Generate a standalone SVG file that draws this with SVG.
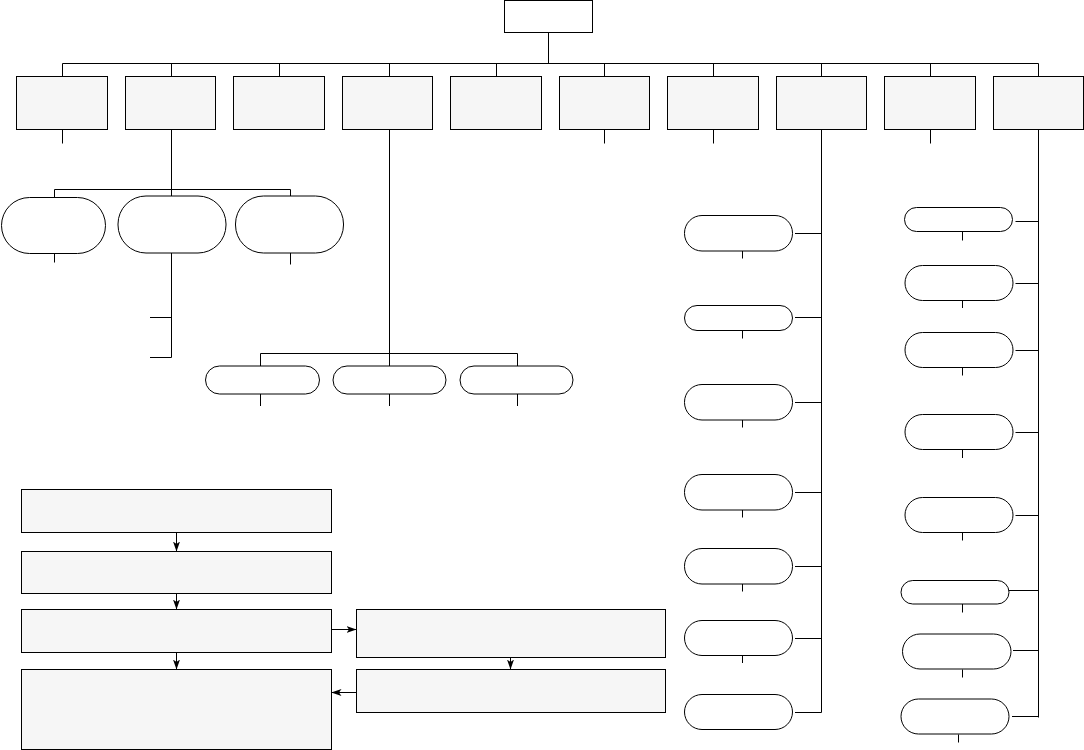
<svg xmlns="http://www.w3.org/2000/svg" width="1084" height="750" viewBox="0 0 1084 750">
<style>
.box{fill:#f6f6f6;stroke:#000;stroke-width:1}
.pill{fill:#fff;stroke:#000;stroke-width:1}
.ln{fill:none;stroke:#000;stroke-width:1}
.ar{fill:none;stroke:#000;stroke-width:1;marker-end:url(#ah)}
</style>
<defs>
<marker id="ah" markerUnits="userSpaceOnUse" markerWidth="10" markerHeight="8" refX="10" refY="4" orient="auto">
<path d="M0,0.5 L10,4 L0,7.5 L2.5,4 z" fill="#000"/>
</marker>
</defs>
<rect width="1084" height="750" fill="#fff"/>
<g id="connectors">
<path class="ln" d="M548.5 32.5V63.5M62.5 63.5H1038.5M62.5 63.5V76.5M171.5 63.5V76.5M279.5 63.5V76.5M389.5 63.5V76.5M496.5 63.5V76.5M604.5 63.5V76.5M713.5 63.5V76.5M821.5 63.5V76.5M930.5 63.5V76.5M1038.5 63.5V76.5"/>
<path class="ln" d="M62.5 129.5V143.5M604.5 129.5V143.5M713.5 129.5V143.5M930.5 129.5V143.5"/>
<path class="ln" d="M171.5 129.5V196M54.5 189.5H290.5M54.5 189.5V197.5M290.5 189.5V196M54.5 253.5V262.5M290.5 253V264.5M171.5 253V357.5M150 317.5H171.5M150 357.5H171.5"/>
<path class="ln" d="M389.5 129.5V366M260.5 353.5H517.5M260.5 353.5V366M517.5 353.5V366M260.5 394V406M389.5 394V406M517.5 394V406"/>
<path class="ln" d="M821.5 129.5V712.5M795 233.5H821.5M795 317.5H821.5M795 402.5H821.5M795 492.5H821.5M795 566.5H821.5M795 638.5H821.5M795 712.5H821.5M742.5 251V258.5M742.5 330.5V338.5M742.5 420V427.5M742.5 510V517.5M742.5 584V591.5M742.5 655.5V663"/>
<path class="ln" d="M1038.5 129.5V717.5M1015.5 221.5H1038.5M1015.5 283.5H1038.5M1015.5 350.5H1038.5M1015.5 432.5H1038.5M1015.5 515.5H1038.5M1009 590.5H1038.5M1013 650.5H1038.5M1012 716.5H1038.5M962.5 231.5V240.5M962.5 300.5V308M962.5 367.5V375.5M962.5 449.5V458M962.5 532.5V540.5M962.5 604V612.5M962.5 669.5V677.5M958.5 734.5V742.5"/>
<path class="ar" d="M176.5 532.5V551.5"/>
<path class="ar" d="M176.5 593.5V609.5"/>
<path class="ar" d="M176.5 652.5V669.5"/>
<path class="ar" d="M331.5 629.5H356.5"/>
<path class="ar" d="M510.5 652.5V669.5"/>
<path class="ar" d="M356.5 692.5H331.5"/>
</g>
<g id="root"><rect class="box" x="504.5" y="0.5" width="88" height="32" style="fill:#fff"/></g>
<g id="n1"><rect class="box" x="16.5" y="76.5" width="91" height="53"/></g>
<g id="n2"><rect class="box" x="125.5" y="76.5" width="90" height="53"/></g>
<g id="n3"><rect class="box" x="233.5" y="76.5" width="91" height="53"/></g>
<g id="n4"><rect class="box" x="342.5" y="76.5" width="90" height="53"/></g>
<g id="n5"><rect class="box" x="450.5" y="76.5" width="91" height="53"/></g>
<g id="n6"><rect class="box" x="559.5" y="76.5" width="90" height="53"/></g>
<g id="n7"><rect class="box" x="667.5" y="76.5" width="91" height="53"/></g>
<g id="n8"><rect class="box" x="776.5" y="76.5" width="90" height="53"/></g>
<g id="n9"><rect class="box" x="884.5" y="76.5" width="91" height="53"/></g>
<g id="n10"><rect class="box" x="993.5" y="76.5" width="90" height="53"/></g>
<g id="a1"><rect class="pill" x="1.5" y="197.5" width="104" height="56" rx="28"/></g>
<g id="a2"><rect class="pill" x="118" y="196" width="108" height="57" rx="28"/></g>
<g id="a3"><rect class="pill" x="235.5" y="196" width="108" height="57" rx="28"/></g>
<g id="b1"><rect class="pill" x="205.5" y="366" width="114" height="28" rx="14"/></g>
<g id="b2"><rect class="pill" x="333" y="366" width="113" height="28" rx="14"/></g>
<g id="b3"><rect class="pill" x="460" y="366" width="113" height="28" rx="14"/></g>
<g id="q1"><rect class="pill" x="684.5" y="215.5" width="108" height="35.5" rx="17.5"/></g>
<g id="q2"><rect class="pill" x="684.5" y="305.5" width="108" height="25" rx="12.5"/></g>
<g id="q3"><rect class="pill" x="684.5" y="384.5" width="108" height="35.5" rx="17.5"/></g>
<g id="q4"><rect class="pill" x="684.5" y="474.5" width="108" height="35.5" rx="17.5"/></g>
<g id="q5"><rect class="pill" x="684.5" y="548.5" width="108" height="35.5" rx="17.5"/></g>
<g id="q6"><rect class="pill" x="684.5" y="620.5" width="108" height="35" rx="17.5"/></g>
<g id="q7"><rect class="pill" x="684.5" y="694.5" width="108" height="35" rx="17.5"/></g>
<g id="r1"><rect class="pill" x="904.5" y="207.5" width="108" height="24" rx="12"/></g>
<g id="r2"><rect class="pill" x="905" y="265.5" width="108" height="35" rx="17.5"/></g>
<g id="r3"><rect class="pill" x="905" y="332.5" width="108" height="35" rx="17.5"/></g>
<g id="r4"><rect class="pill" x="905" y="414.5" width="108" height="35" rx="17.5"/></g>
<g id="r5"><rect class="pill" x="905" y="497.5" width="108" height="35" rx="17.5"/></g>
<g id="r6"><rect class="pill" x="901" y="580.5" width="108" height="23.5" rx="11.75"/></g>
<g id="r7"><rect class="pill" x="902.5" y="634" width="108.5" height="35" rx="17.5"/></g>
<g id="r8"><rect class="pill" x="901" y="699" width="108" height="35" rx="17.5"/></g>
<g id="f1"><rect class="box" x="21.5" y="489.5" width="310" height="43"/></g>
<g id="f2"><rect class="box" x="21.5" y="551.5" width="310" height="42"/></g>
<g id="f3"><rect class="box" x="21.5" y="609.5" width="310" height="43"/></g>
<g id="f4"><rect class="box" x="21.5" y="669.5" width="310" height="80"/></g>
<g id="f5"><rect class="box" x="356.5" y="609.5" width="309" height="48"/></g>
<g id="f6"><rect class="box" x="356.5" y="669.5" width="309" height="43"/></g>
</svg>
